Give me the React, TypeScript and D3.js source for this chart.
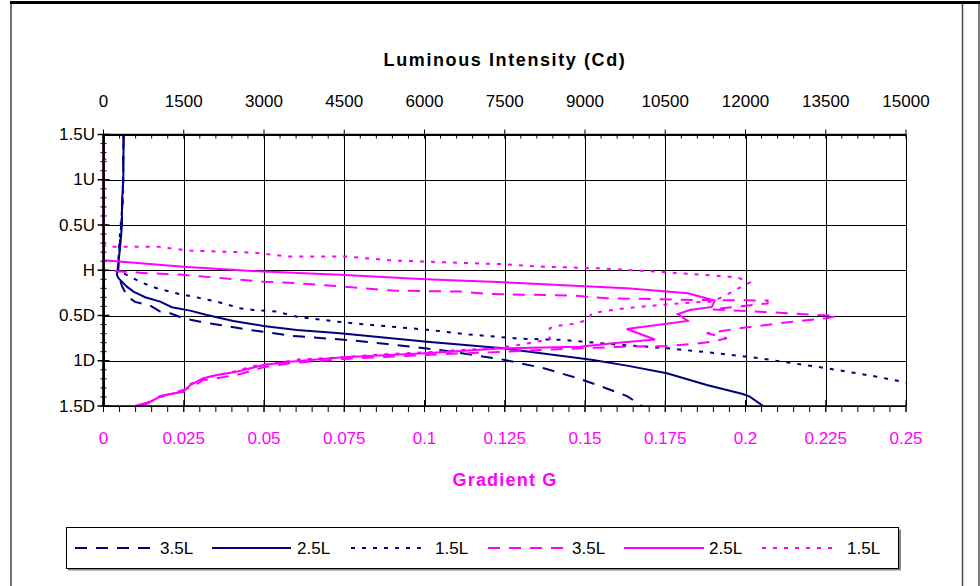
import * as d3 from "d3";

// vertical position: 1.5U = 1.5, H = 0, 1.5D = -1.5
const posTicks = [1.5, 1, 0.5, 0, -0.5, -1, -1.5];
const posLabels = ["1.5U", "1U", "0.5U", "H", "0.5D", "1D", "1.5D"];
const cdTicks = [0, 1500, 3000, 4500, 6000, 7500, 9000, 10500, 12000, 13500, 15000];
const gradTicks = [0, 0.025, 0.05, 0.075, 0.1, 0.125, 0.15, 0.175, 0.2, 0.225, 0.25];
const gradLabels = ["0", "0.025", "0.05", "0.075", "0.1", "0.125", "0.15", "0.175", "0.2", "0.225", "0.25"];

// luminous intensity (Cd) vs position
const cd35: [number, number][] = [
  [375, 1.5], [370, 1.25], [365, 1.0], [355, 0.75], [330, 0.5], [300, 0.25], [277, 0],
  [303, -0.1], [350, -0.18], [443, -0.29], [592, -0.35], [872, -0.39], [1059, -0.457],
  [1246, -0.475], [1489, -0.53], [1807, -0.568], [2049, -0.593], [2740, -0.66], [3544, -0.726],
  [4552, -0.77], [5300, -0.815], [6290, -0.881], [7411, -0.981], [8214, -1.08], [8850, -1.19],
  [9330, -1.29], [9785, -1.39], [10063, -1.5],
];
const cd25: [number, number][] = [
  [380, 1.5], [372, 1.25], [370, 1.0], [345, 0.75], [345, 0.5], [310, 0.25], [262, 0],
  [250, -0.052], [280, -0.088], [344, -0.126], [437, -0.181], [560, -0.236], [779, -0.298],
  [1059, -0.347], [1278, -0.409], [1620, -0.446], [1932, -0.494], [2428, -0.56], [2989, -0.615],
  [3613, -0.66], [4422, -0.696], [6047, -0.789], [7467, -0.862], [8906, -0.973], [9150, -0.991],
  [9784, -1.054], [10530, -1.138], [11277, -1.268], [11650, -1.323], [11950, -1.367],
  [12080, -1.397], [12323, -1.497],
];
const cd15: [number, number][] = [
  [372, 1.5], [368, 1.25], [372, 1.0], [360, 0.75], [320, 0.5], [290, 0.25], [268, 0],
  [344, -0.026], [742, -0.143], [998, -0.199], [1246, -0.236], [1433, -0.265], [1676, -0.291],
  [2118, -0.347], [2554, -0.42], [2797, -0.439], [3239, -0.457], [3613, -0.513], [4360, -0.568],
  [4795, -0.593], [6103, -0.66], [6789, -0.707], [7784, -0.756], [8588, -0.77], [9466, -0.815],
  [10530, -0.862], [11464, -0.917], [12267, -0.973], [13519, -1.083], [14453, -1.176],
  [15013, -1.242], [15450, -1.3],
];

// gradient G vs position
const g35: [number, number][] = [
  [0, 1.5], [0, 0], [0.0104, -0.026], [0.0249, -0.051], [0.0374, -0.088], [0.0498, -0.126],
  [0.0602, -0.143], [0.0749, -0.181], [0.0902, -0.225], [0.111, -0.236], [0.1195, -0.262],
  [0.1462, -0.28], [0.1568, -0.309], [0.1836, -0.328], [0.2069, -0.334], [0.2069, -0.367],
  [0.1895, -0.433], [0.2085, -0.466], [0.2284, -0.505], [0.2253, -0.53], [0.2147, -0.568],
  [0.1982, -0.641], [0.1879, -0.696], [0.1942, -0.751], [0.1898, -0.789], [0.1836, -0.815],
  [0.1755, -0.837], [0.163, -0.844], [0.1484, -0.862], [0.1248, -0.9], [0.1002, -0.936],
  [0.0852, -0.962], [0.0737, -0.984], [0.0581, -1.028], [0.0498, -1.072], [0.0415, -1.157],
  [0.0353, -1.194], [0.031, -1.213], [0.0279, -1.287], [0.0208, -1.367], [0.0177, -1.389],
  [0.0139, -1.47], [0.0114, -1.5],
];
const g25: [number, number][] = [
  [0, 1.5], [0, 0.111], [0.0249, 0.04], [0.0498, -0.015], [0.0737, -0.051], [0.1002, -0.099],
  [0.1248, -0.132], [0.1484, -0.173], [0.163, -0.199], [0.1755, -0.236], [0.182, -0.254],
  [0.1889, -0.32], [0.1904, -0.336], [0.1895, -0.405], [0.1827, -0.439], [0.1789, -0.483],
  [0.182, -0.56], [0.163, -0.649], [0.1718, -0.765], [0.1587, -0.807], [0.1484, -0.845],
  [0.1248, -0.862], [0.1002, -0.917], [0.0746, -0.962], [0.0581, -1.01], [0.0498, -1.047],
  [0.0415, -1.121], [0.0353, -1.157], [0.0311, -1.194], [0.027, -1.268], [0.0249, -1.342],
  [0.0208, -1.367], [0.0177, -1.397], [0.0145, -1.453], [0.0099, -1.5],
];
const g15: [number, number][] = [
  [0, 1.5], [0, 1.25], [0.0006, 1.22], [0, 1.19], [0, 0.29], [0.0008, 0.261], [0.0167, 0.261],
  [0.027, 0.217], [0.0466, 0.195], [0.0581, 0.151], [0.0759, 0.151], [0.0902, 0.107],
  [0.1089, 0.085], [0.1245, 0.067], [0.1359, 0.041], [0.1537, 0.023], [0.1755, -0.022],
  [0.1942, -0.068], [0.1982, -0.088], [0.2013, -0.137], [0.1988, -0.181], [0.196, -0.236],
  [0.192, -0.309], [0.1898, -0.347], [0.1848, -0.353], [0.1773, -0.372], [0.1702, -0.394],
  [0.1624, -0.42], [0.1553, -0.457], [0.1522, -0.472], [0.1509, -0.549], [0.1462, -0.593],
  [0.1422, -0.61], [0.1391, -0.638], [0.1385, -0.693], [0.1391, -0.759], [0.135, -0.789],
  [0.1275, -0.837], [0.1204, -0.864], [0.111, -0.881], [0.1002, -0.908], [0.0862, -0.931],
  [0.0728, -0.966], [0.0612, -0.984], [0.0535, -1.028], [0.0466, -1.058], [0.0416, -1.113],
  [0.0354, -1.157], [0.031, -1.201], [0.027, -1.257], [0.0248, -1.334], [0.0213, -1.367],
  [0.0177, -1.401], [0.0145, -1.456], [0.0108, -1.5],
];

const seriesNames = ["3.5L", "2.5L", "1.5L", "3.5L", "2.5L", "1.5L"];

const NAVY = "#000080";
const MAGENTA = "#FF00FF";
const DASH = "12,9";
const DOT = "4,7";
const FONT = "'Liberation Sans', Arial, sans-serif";

const series = [
  { name: seriesNames[0], data: cd35, color: NAVY, dash: DASH, axis: "cd" },
  { name: seriesNames[1], data: cd25, color: NAVY, dash: "", axis: "cd" },
  { name: seriesNames[2], data: cd15, color: NAVY, dash: DOT, axis: "cd" },
  { name: seriesNames[3], data: g35, color: MAGENTA, dash: DASH, axis: "g" },
  { name: seriesNames[4], data: g25, color: MAGENTA, dash: "", axis: "g" },
  { name: seriesNames[5], data: g15, color: MAGENTA, dash: DOT, axis: "g" },
];

const L = 103.5, R = 906, T = 134.5, B = 406;

export default function App() {
  const y = d3.scaleLinear().domain([-1.5, 1.5]).range([B, T]);
  const xCd = d3.scaleLinear().domain([0, 15000]).range([L, R]);
  const xG = d3.scaleLinear().domain([0, 0.25]).range([L, R]);

  const lineFor = (axis: string) =>
    d3.line<[number, number]>()
      .x(d => (axis === "cd" ? xCd(d[0]) : xG(d[0])))
      .y(d => y(d[1]));

  const minorX = d3.range(0, 15001, 300);
  const minorY = d3.range(-1.5, 1.5001, 0.1);

  // legend layout
  const legendItems = [
    { x1: 75, x2: 153, tx: 160 },
    { x1: 212, x2: 291, tx: 297 },
    { x1: 351, x2: 424, tx: 435 },
    { x1: 488, x2: 566, tx: 572 },
    { x1: 624, x2: 704, tx: 709 },
    { x1: 762, x2: 838, tx: 847 },
  ];

  return (
    <svg width={980} height={586} style={{ position: "absolute", left: 0, top: 0, background: "#fff" }}
      fontFamily={FONT}>
      <defs>
        <clipPath id="plotClip">
          <rect x={L} y={T - 1} width={R - L} height={B - T + 2} />
        </clipPath>
      </defs>
      <rect x={0} y={0} width={980} height={586} fill="#fff" />
      {/* outer frame */}
      <rect x={10} y={1} width={970} height={3} fill="#000" />
      <line x1={11} x2={11} y1={4} y2={586} stroke="#444" strokeWidth={1.5} />
      <line x1={962.5} x2={962.5} y1={4} y2={586} stroke="#444" strokeWidth={1.5} />
      <line x1={979} x2={979} y1={4} y2={586} stroke="#000" strokeWidth={1} />

      {/* gridlines */}
      {cdTicks.map(t => (
        <line key={"gx" + t} x1={Math.round(xCd(t)) + 0.5} x2={Math.round(xCd(t)) + 0.5} y1={T} y2={B}
          stroke="#000" strokeWidth={1} />
      ))}
      {posTicks.map(t => (
        <line key={"gy" + t} x1={L} x2={R} y1={Math.round(y(t)) + 0.5} y2={Math.round(y(t)) + 0.5}
          stroke="#000" strokeWidth={1} />
      ))}

      {/* series */}
      <g clipPath="url(#plotClip)" fill="none">
        {series.map((s, i) => (
          <path key={"s" + i} d={lineFor(s.axis)(s.data) || ""} stroke={s.color} strokeWidth={2}
            strokeDasharray={s.dash || undefined} />
        ))}
      </g>

      {/* axes */}
      <line x1={L} x2={L} y1={T} y2={B} stroke="#000" strokeWidth={2.6} />
      <line x1={L} x2={R} y1={T} y2={T} stroke="#000" strokeWidth={1.5} />
      <line x1={L} x2={R} y1={B} y2={B} stroke="#000" strokeWidth={1.5} />
      {minorX.map(t => (
        <g key={"mx" + t}>
          <line x1={xCd(t)} x2={xCd(t)} y1={T} y2={T + 4} stroke="#000" />
          <line x1={xCd(t)} x2={xCd(t)} y1={B} y2={B + 6} stroke="#000" />
        </g>
      ))}
      {cdTicks.map(t => (
        <g key={"Mx" + t}>
          <line x1={xCd(t)} x2={xCd(t)} y1={T - 5} y2={T} stroke="#000" />
          <line x1={xCd(t)} x2={xCd(t)} y1={B - 6} y2={B + 6} stroke="#000" />
        </g>
      ))}
      {minorY.map((t, i) => (
        <line key={"my" + i} x1={L - 3} x2={L + 3} y1={y(t)} y2={y(t)} stroke="#000" />
      ))}
      {posTicks.map(t => (
        <line key={"My" + t} x1={L - 6} x2={L + 6} y1={y(t)} y2={y(t)} stroke="#000" strokeWidth={1.5} />
      ))}

      {/* labels */}
      <text x={505} y={60} textAnchor="middle" dominantBaseline="central" fontSize={18}
        fontWeight="bold" letterSpacing={1.6}>Luminous Intensity (Cd)</text>
      {cdTicks.map(t => (
        <text key={"lx" + t} x={xCd(t)} y={101} textAnchor="middle" dominantBaseline="central"
          fontSize={17}>{t}</text>
      ))}
      {posTicks.map((t, i) => (
        <text key={"ly" + t} x={95} y={y(t)} textAnchor="end" dominantBaseline="central"
          fontSize={17}>{posLabels[i]}</text>
      ))}
      {gradTicks.map((t, i) => (
        <text key={"lg" + t} x={xG(t)} y={438} textAnchor="middle" dominantBaseline="central"
          fontSize={17} fill={MAGENTA}>{gradLabels[i]}</text>
      ))}
      <text x={505} y={480} textAnchor="middle" dominantBaseline="central" fontSize={18}
        fontWeight="bold" letterSpacing={1.2} fill={MAGENTA}>Gradient G</text>

      {/* legend */}
      <rect x={68} y={529.5} width={833} height={41} fill="#888" />
      <rect x={66.5} y={527.5} width={832} height={41} fill="#fff" stroke="#000" strokeWidth={1} />
      {series.map((s, i) => (
        <g key={"lg" + i}>
          <line x1={legendItems[i].x1} x2={legendItems[i].x2} y1={548} y2={548} stroke={s.color}
            strokeWidth={2} strokeDasharray={s.dash || undefined} />
          <text x={legendItems[i].tx} y={548} dominantBaseline="central" fontSize={17}>{s.name}</text>
        </g>
      ))}
    </svg>
  );
}
